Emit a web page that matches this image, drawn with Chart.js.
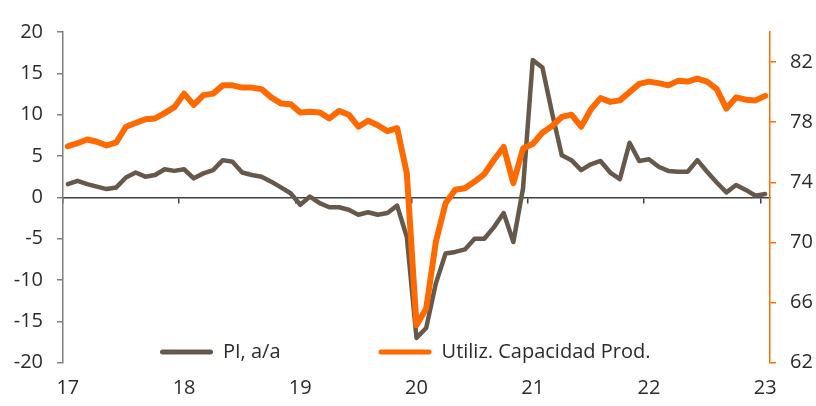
<!DOCTYPE html>
<html>
<head>
<meta charset="utf-8">
<script src="https://cdn.jsdelivr.net/npm/chart.js@4/dist/chart.umd.min.js"></script>
<style>
  html, body { margin: 0; padding: 0; background: #ffffff; }
  #wrap { width: 816px; height: 406px; }
</style>
</head>
<body>
<div id="wrap"><canvas id="c" width="816" height="406"></canvas></div>
<script>
// ---- Data ----
const months = [
  'ene-17','feb-17','mar-17','abr-17','may-17','jun-17','jul-17','ago-17','sep-17','oct-17','nov-17','dic-17',
  'ene-18','feb-18','mar-18','abr-18','may-18','jun-18','jul-18','ago-18','sep-18','oct-18','nov-18','dic-18',
  'ene-19','feb-19','mar-19','abr-19','may-19','jun-19','jul-19','ago-19','sep-19','oct-19','nov-19','dic-19',
  'ene-20','feb-20','mar-20','abr-20','may-20','jun-20','jul-20','ago-20','sep-20','oct-20','nov-20','dic-20',
  'ene-21','feb-21','mar-21','abr-21','may-21','jun-21','jul-21','ago-21','sep-21','oct-21','nov-21','dic-21',
  'ene-22','feb-22','mar-22','abr-22','may-22','jun-22','jul-22','ago-22','sep-22','oct-22','nov-22','dic-22',
  'ene-23'
];
const yearLabels = ['17','18','19','20','21','22','23'];
const leftTicks = [-20, -15, -10, -5, 0, 5, 10, 15, 20];
const rightTicks = [62, 66, 70, 74, 78, 82];

const piYoY = [
  1.6, 2.0, 1.6, 1.3, 1.0, 1.2, 2.4, 3.0, 2.5, 2.7, 3.4, 3.2,
  3.4, 2.3, 2.9, 3.3, 4.5, 4.3, 3.0, 2.7, 2.5, 1.9, 1.2, 0.5,
  -0.9, 0.1, -0.7, -1.2, -1.2, -1.5, -2.1, -1.8, -2.1, -1.9, -1.0, -4.8,
  -17.0, -15.8, -10.4, -6.8, -6.6, -6.3, -5.0, -5.0, -3.6, -1.9, -5.4, 1.1,
  16.6, 15.7, 10.2, 5.1, 4.5, 3.3, 4.0, 4.4, 3.0, 2.2, 6.6, 4.4,
  4.6, 3.7, 3.2, 3.1, 3.1, 4.5, 3.1, 1.8, 0.6, 1.5, 0.9, 0.2,
  0.4
];
const capUtil = [
  76.4, 76.6, 76.85, 76.7, 76.45, 76.65, 77.7, 77.95, 78.2, 78.25, 78.6, 79.0,
  79.9, 79.15, 79.8, 79.9, 80.45, 80.45, 80.3, 80.3, 80.2, 79.65, 79.25, 79.2,
  78.65, 78.7, 78.65, 78.25, 78.75, 78.5, 77.7, 78.1, 77.8, 77.4, 77.6, 74.6,
  64.5, 65.6, 70.05, 72.6, 73.5, 73.6, 74.05, 74.55, 75.5, 76.35, 73.95, 76.25,
  76.55, 77.3, 77.75, 78.35, 78.5, 77.7, 78.85, 79.6, 79.35, 79.45, 80.0, 80.55,
  80.7, 80.6, 80.45, 80.75, 80.7, 80.9, 80.7, 80.2, 78.9, 79.65, 79.5, 79.45,
  79.75
];
const seriesNames = ['PI, a/a', 'Utiliz. Capacidad Prod.'];

// ---- Styles ----
const BROWN = '#67584c';
const ORANGE = '#ff6a00';
const TEXT = '#2b2b2b';
const AXIS_GRAY = '#7f7f7f';
const ZERO = '#404040';

Chart.defaults.font.family = "'Open Sans', 'Noto Sans', sans-serif";
Chart.defaults.font.size = 20;
Chart.defaults.color = TEXT;

const LEGEND_PAD = 98;

const legendPlacer = {
  id: 'legendPlacer',
  afterLayout(chart) {
    const lg = chart.legend;
    if (!lg) return;
    lg.left = 160 - LEGEND_PAD;
    lg.right = 816;
    lg.top = 342 - LEGEND_PAD;
    lg.bottom = 406;
    lg.width = lg.right - lg.left;
    lg.height = lg.bottom - lg.top;
  }
};

new Chart(document.getElementById('c'), {
  type: 'line',
  data: {
    labels: months,
    datasets: [
      {
        label: seriesNames[0],
        data: piYoY,
        yAxisID: 'y',
        borderColor: BROWN,
        backgroundColor: BROWN,
        borderWidth: 4.5,
        pointRadius: 0,
        tension: 0,
        borderJoinStyle: 'round',
        borderCapStyle: 'round',
        order: 1
      },
      {
        label: seriesNames[1],
        data: capUtil,
        yAxisID: 'y1',
        borderColor: ORANGE,
        backgroundColor: ORANGE,
        borderWidth: 6,
        pointRadius: 0,
        tension: 0,
        borderJoinStyle: 'round',
        borderCapStyle: 'round',
        order: 0
      }
    ]
  },
  options: {
    responsive: false,
    animation: false,
    layout: { padding: { left: 0, right: 0, top: 31, bottom: 0 } },
    plugins: {
      tooltip: { enabled: false },
      legend: {
        position: 'top',
        align: 'start',
        maxHeight: 1,
        labels: {
          boxWidth: 53,
          boxHeight: 5,
          padding: LEGEND_PAD,
          color: TEXT,
          font: { size: 20 },
          useBorderRadius: true,
          borderRadius: 2.5,
          sort: (a, b) => a.datasetIndex - b.datasetIndex,
          generateLabels: (chart) =>
            Chart.defaults.plugins.legend.labels.generateLabels(chart).map(l =>
              Object.assign({}, l, { lineWidth: 0, fillStyle: l.strokeStyle }))
        }
      }
    },
    scales: {
      x: {
        type: 'category',
        position: 'bottom',
        offset: true,
        grid: { display: false, drawTicks: false },
        border: { display: false },
        ticks: {
          autoSkip: false,
          maxRotation: 0,
          padding: 14,
          color: TEXT,
          callback: (v, i) => (i % 12 === 0 ? yearLabels[i / 12] : '')
        },
        afterFit: (s) => { s.height = 43.3; }
      },
      x2: {
        type: 'category',
        position: { y: 0 },
        offset: true,
        grid: {
          offset: true,
          drawOnChartArea: false,
          drawTicks: true,
          tickLength: 5,
          lineWidth: 1.5,
          color: (ctx) => (ctx.tick && ctx.index % 12 === 0 ? ZERO : 'rgba(0,0,0,0)')
        },
        border: { display: true, color: ZERO, width: 1.5 },
        ticks: { display: false, autoSkip: false }
      },
      y: {
        position: 'left',
        min: -20,
        max: 20,
        afterBuildTicks: (s) => { s.ticks = leftTicks.map(v => ({ value: v })); },
        ticks: { padding: 14, color: TEXT },
        grid: { drawOnChartArea: false, drawTicks: true, tickLength: 6, color: AXIS_GRAY, lineWidth: 1.5 },
        border: { display: true, color: AXIS_GRAY, width: 1.5 },
        afterFit: (s) => { s.width = 63; }
      },
      y1: {
        position: 'right',
        min: 62,
        max: 84,
        afterBuildTicks: (s) => { s.ticks = rightTicks.map(v => ({ value: v })); },
        ticks: { padding: 14, color: TEXT },
        grid: { drawOnChartArea: false, drawTicks: true, tickLength: 6, color: ORANGE, lineWidth: 1.5 },
        border: { display: true, color: ORANGE, width: 1.5 },
        afterFit: (s) => { s.width = 46; }
      }
    }
  },
  plugins: [legendPlacer]
});
</script>
</body>
</html>
